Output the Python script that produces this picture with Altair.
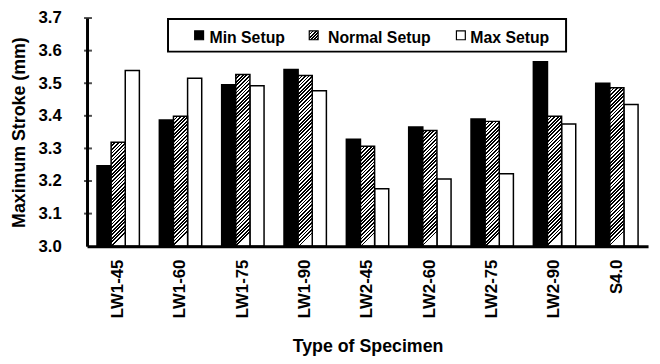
import altair as alt
import pandas as pd

specimens = ["LW1-45", "LW1-60", "LW1-75", "LW1-90", "LW2-45", "LW2-60", "LW2-75", "LW2-90", "S4.0"]
series = ["Min Setup", "Normal Setup", "Max Setup"]
min_vals = [3.247, 3.387, 3.495, 3.542, 3.328, 3.366, 3.390, 3.566, 3.500]
normal_vals = [3.319, 3.399, 3.527, 3.524, 3.307, 3.355, 3.383, 3.399, 3.486]
max_vals = [3.539, 3.515, 3.492, 3.477, 3.176, 3.206, 3.222, 3.375, 3.435]
y_ticks = [3.0, 3.1, 3.2, 3.3, 3.4, 3.5, 3.6, 3.7]

FONT = "Liberation Sans"
W, H = 568, 231
Y0, Y1 = 3.0, 3.7
PAD_IN = 0.32

rows = []
for s, vals in zip(series, [min_vals, normal_vals, max_vals]):
    for sp, v in zip(specimens, vals):
        rows.append({"Specimen": sp, "Series": s, "Value": v})
df = pd.DataFrame(rows)


def hatch(w, h, p=3.6, frac=0.5):
    L = w * w + h * h
    stops = []
    s = 0.0
    while s < w + h:
        a = min(s * h / L, 1.0)
        b = min((s + p * frac) * h / L, 1.0)
        c = min((s + p) * h / L, 1.0)
        stops += [
            {"offset": round(a, 5), "color": "black"},
            {"offset": round(b, 5), "color": "black"},
            {"offset": round(b, 5), "color": "white"},
            {"offset": round(c, 5), "color": "white"},
        ]
        s += p
    return {"gradient": "linear", "x1": 0, "y1": 0, "x2": round(w / h, 5), "y2": 1, "stops": stops}


step = W / 9.0
bar_w = step * (1 - PAD_IN) / 3.0
conds = []
for sp, v in zip(specimens, normal_vals):
    h = (v - Y0) / (Y1 - Y0) * H
    conds.append({"test": f"datum.Specimen === '{sp}'", "value": hatch(bar_w, h)})

x_enc = alt.X(
    "Specimen:N",
    sort=specimens,
    scale=alt.Scale(paddingInner=PAD_IN, paddingOuter=PAD_IN / 2),
    axis=alt.Axis(
        title="Type of Specimen",
        labelAngle=-90,
        labelFont=FONT,
        labelFontSize=17,
        labelFontWeight="bold",
        labelColor="black",
        labelPadding=13,
        ticks=False,
        domainColor="black",
        domainWidth=3,
        titleFont=FONT,
        titleFontSize=18,
        titleFontWeight="bold",
        titleColor="black",
        titlePadding=20,
        zindex=1,
    ),
)
y_scale = alt.Scale(domain=[Y0, Y1], nice=False, zero=False)
y_enc = alt.Y(
    "Value:Q",
    scale=y_scale,
    axis=alt.Axis(
        values=y_ticks,
        format=".1f",
        title="Maximum Stroke (mm)",
        labelFont=FONT,
        labelFontSize=17,
        labelFontWeight="bold",
        labelColor="black",
        labelPadding=26,
        labelOverlap=False,
        labelFlush=False,
        ticks=False,
        grid=False,
        domainColor="black",
        domainWidth=3,
        titleFont=FONT,
        titleFontSize=18,
        titleFontWeight="bold",
        titleColor="black",
        titlePadding=10,
        zindex=1,
    ),
)
xoff = alt.XOffset("Series:N", sort=series, scale=alt.Scale(domain=series, paddingInner=0, paddingOuter=0))

base = alt.Chart(df)

minmax = base.transform_filter(
    "datum.Series !== 'Normal Setup'"
).mark_bar(stroke="black", strokeWidth=1.5).encode(
    x=x_enc,
    y=y_enc,
    y2=alt.datum(Y0),
    xOffset=xoff,
    fill=alt.Fill("Series:N", scale=alt.Scale(domain=series, range=["black", "#808080", "white"]), legend=None),
)

normal = base.transform_filter(
    "datum.Series === 'Normal Setup'"
).mark_bar(stroke="black", strokeWidth=1.5).encode(
    x=x_enc,
    y=y_enc,
    y2=alt.datum(Y0),
    xOffset=xoff,
    fill={"condition": conds, "value": "white"},
)

tick_df = pd.DataFrame({"Value": y_ticks[1:]})
ticks = alt.Chart(tick_df).mark_tick(color="black", thickness=2, size=8).encode(
    y=y_enc,
    x=alt.value(1),
)

one = alt.Data(values=[{"a": 1}])
legend_layers = [
    alt.Chart(one).mark_rect(fill="white", stroke="black", strokeWidth=2).encode(
        x=alt.value(82), x2=alt.value(485), y=alt.value(1), y2=alt.value(34)
    )
]
sym_x = [109, 225, 374]
txt_x = [124, 244, 388]
sym_fill = ["black", hatch(9, 9, p=3.2), "white"]
for name, sx, tx, f in zip(series, sym_x, txt_x, sym_fill):
    legend_layers.append(
        alt.Chart(one).mark_rect(fill=f, stroke="black", strokeWidth=1.2).encode(
            x=alt.value(sx), x2=alt.value(sx + 9), y=alt.value(13), y2=alt.value(22)
        )
    )
    legend_layers.append(
        alt.Chart(one).mark_text(
            align="left", baseline="alphabetic", font=FONT, fontSize=16, fontWeight="bold", color="black"
        ).encode(x=alt.value(tx), y=alt.value(25), text=alt.value(name))
    )

chart = alt.layer(minmax, normal, ticks, *legend_layers).properties(
    width=W,
    height=H,
    padding={"left": 80, "top": 8, "right": 4, "bottom": 110},
    autosize="none",
    background="white",
).configure_view(stroke="transparent")

chart.save("out.html", embed_options={"renderer": "svg", "actions": False})
